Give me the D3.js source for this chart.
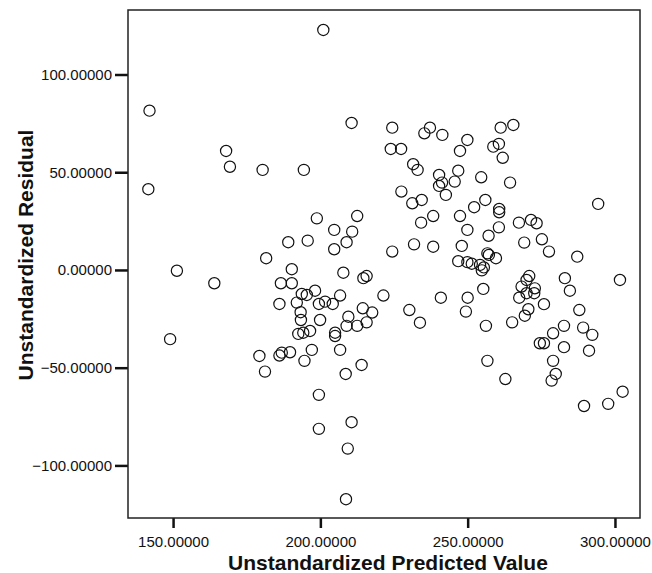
<!DOCTYPE html>
<html>
<head>
<meta charset="utf-8">
<script src="https://cdn.jsdelivr.net/npm/d3@7"></script>
<style>
  html, body { margin: 0; padding: 0; background: #fff; }
  svg { display: block; font-family: "Liberation Sans", Arial, sans-serif; }
  .tick text { font-size: 15px; fill: #111; }
  .tick line { stroke: #111; stroke-width: 2.5; }
  .title { font-size: 21px; font-weight: bold; fill: #111; }
</style>
</head>
<body>
<svg id="chart"></svg>
<script>
// ----------------------------------
// Data
// ----------------------------------
const predicted = [
  201.0, 142.0, 210.6, 224.4, 223.9, 168.0, 169.3, 180.4, 194.4, 141.6,
  198.8, 212.5, 204.7, 210.8, 189.1, 195.7, 208.9, 204.7, 224.4, 181.6,
  151.3, 190.3, 207.8, 237.2, 235.3, 241.4, 261.2, 265.5, 227.4, 249.9,
  247.4, 258.7, 260.6, 261.9, 231.5, 233.0, 240.3, 246.8, 241.3, 240.3,
  245.6, 254.6, 264.4, 227.5, 242.6, 231.2, 234.4, 256.0, 252.2, 260.7,
  260.7, 294.3, 238.3, 234.2, 247.4, 267.4, 271.5, 273.4, 249.9, 260.6,
  257.1, 231.8, 238.3, 248.0, 269.2, 275.2, 277.6, 287.2, 256.7, 257.2,
  259.6, 246.8, 249.9, 251.4, 254.2, 255.5, 254.8, 270.9, 270.0, 268.3,
  272.8, 270.0, 267.5, 272.6, 283.0, 284.7, 301.7, 221.4, 240.9, 250.0,
  255.3, 230.2, 233.8, 249.4, 275.9, 270.6, 269.4, 287.9, 256.2, 265.1,
  279.0, 282.7, 289.2, 292.3, 274.5, 275.9, 282.7, 291.2, 256.7, 279.0,
  279.9, 278.5, 262.8, 302.6, 289.5, 297.7, 164.0, 149.0, 214.6, 215.7,
  186.6, 190.3, 186.1, 193.7, 195.4, 198.2, 192.0, 199.5, 201.6, 204.2,
  206.7, 193.3, 193.4, 199.9, 209.5, 214.4, 217.6, 215.7, 208.9, 212.5,
  192.5, 194.2, 196.5, 205.0, 205.0, 206.7, 197.1, 179.3, 186.1, 186.9,
  189.7, 194.6, 181.2, 208.6, 214.0, 199.5, 210.6, 199.5, 209.3, 208.7
];

const residual = [
  122.8, 81.5, 75.2, 72.8, 61.9, 60.9, 52.8, 51.2, 51.2, 41.3,
  26.4, 27.6, 20.5, 19.6, 14.2, 15.0, 14.2, 10.6, 9.4, 6.0,
  -0.4, 0.4, -1.4, 72.8, 69.9, 69.1, 72.8, 74.2, 61.9, 66.5,
  60.9, 63.1, 64.5, 57.4, 54.1, 51.2, 48.6, 50.8, 44.7, 43.0,
  45.2, 47.4, 44.7, 40.1, 38.4, 34.1, 35.8, 35.8, 32.1, 31.2,
  29.5, 33.8, 27.6, 24.2, 27.6, 24.2, 25.6, 23.9, 20.5, 21.8,
  17.5, 13.1, 11.9, 12.3, 14.0, 15.7, 9.4, 6.8, 8.5, 7.7,
  6.0, 4.5, 4.0, 3.2, 2.6, 1.3, -0.2, -3.1, -5.1, -8.5,
  -9.4, -11.9, -14.2, -11.9, -4.2, -10.6, -5.1, -13.1, -14.2, -14.2,
  -9.7, -20.5, -27.0, -21.3, -17.5, -20.1, -23.4, -20.5, -28.6, -26.8,
  -32.4, -28.6, -29.5, -33.2, -37.5, -37.5, -39.5, -41.3, -46.5, -46.5,
  -53.2, -56.6, -55.8, -62.3, -69.6, -68.5, -6.8, -35.4, -4.2, -3.1,
  -6.8, -6.8, -17.4, -12.3, -12.8, -10.6, -16.7, -17.4, -16.2, -17.4,
  -13.1, -21.6, -25.6, -25.6, -23.9, -19.6, -21.8, -26.8, -28.6, -28.6,
  -32.7, -32.1, -31.2, -32.1, -33.8, -40.9, -40.9, -44.0, -43.8, -42.3,
  -42.1, -46.5, -52.0, -53.2, -48.6, -63.9, -77.9, -81.3, -91.4, -117.3
];

const xTicks = [150, 200, 250, 300];
const yTicks = [-100, -50, 0, 50, 100];

const xTitle = "Unstandardized Predicted Value";
const yTitle = "Unstandardized Residual";

// ----------------------------------
// Setup
// ----------------------------------
const width = 652;
const height = 573;
const plot = { left: 128, top: 10, right: 640, bottom: 518 };

const svg = d3.select("#chart").attr("width", width).attr("height", height);

const x = d3.scaleLinear().domain([134.7, 308.5]).range([plot.left, plot.right]);
const y = d3.scaleLinear().domain([-126.9, 133]).range([plot.bottom, plot.top]);

const fmt = d => d.toFixed(5).replace("-", "\u2212");

// axes (ticks + labels only, frame drawn separately)
const xAxis = svg.append("g")
  .attr("transform", `translate(0,${plot.bottom})`)
  .call(d3.axisBottom(x).tickValues(xTicks).tickSize(10).tickPadding(8).tickFormat(fmt));
xAxis.select(".domain").remove();

const yAxis = svg.append("g")
  .attr("transform", `translate(${plot.left},0)`)
  .call(d3.axisLeft(y).tickValues(yTicks).tickSize(13).tickPadding(3).tickFormat(fmt));
yAxis.select(".domain").remove();

// plot frame
svg.append("rect")
  .attr("x", plot.left)
  .attr("y", plot.top)
  .attr("width", plot.right - plot.left)
  .attr("height", plot.bottom - plot.top)
  .attr("fill", "none")
  .attr("stroke", "#222")
  .attr("stroke-width", 1.5);

// points
const points = predicted.map((p, i) => ({ p: p, r: residual[i] }));
svg.append("g")
  .selectAll("circle")
  .data(points)
  .enter()
  .append("circle")
  .attr("cx", d => x(d.p))
  .attr("cy", d => y(d.r))
  .attr("r", 5.6)
  .attr("fill", "none")
  .attr("stroke", "#111")
  .attr("stroke-width", 1.2);

// titles
svg.append("text")
  .attr("class", "title")
  .attr("x", (plot.left + plot.right) / 2 + 4)
  .attr("y", 570)
  .attr("text-anchor", "middle")
  .text(xTitle);

svg.append("text")
  .attr("class", "title")
  .attr("transform", "translate(33,255) rotate(-90)")
  .attr("text-anchor", "middle")
  .text(yTitle);
</script>
</body>
</html>
